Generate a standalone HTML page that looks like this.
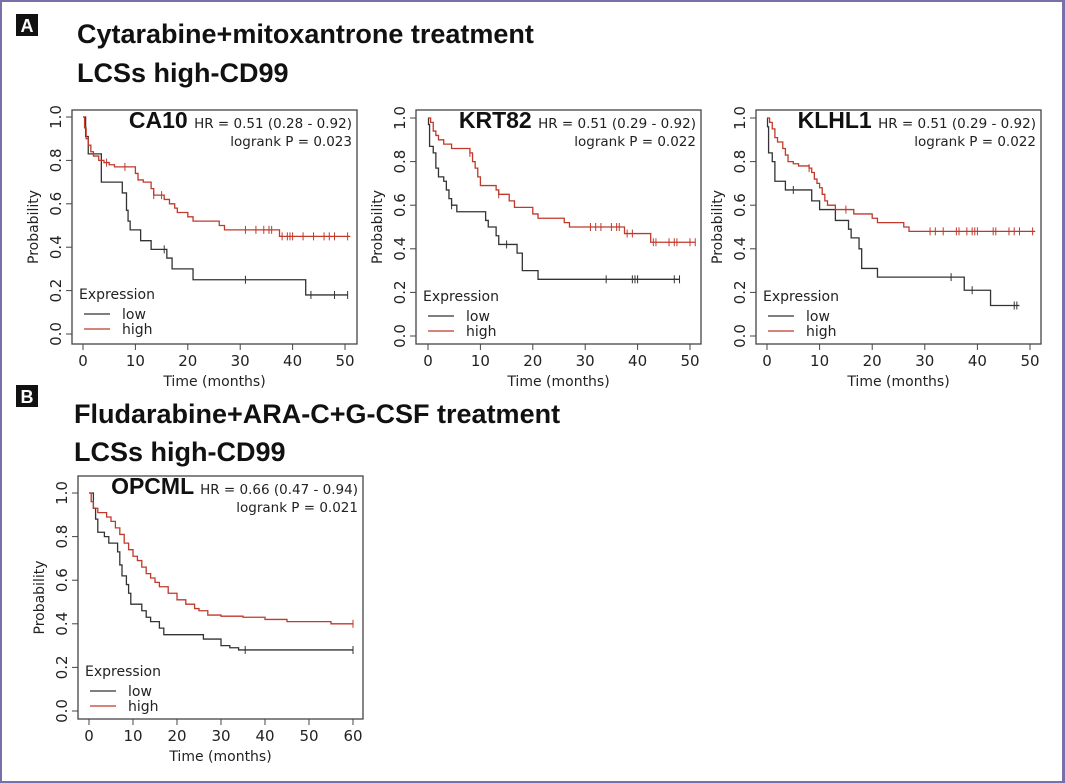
<!DOCTYPE html>
<html><head><meta charset="utf-8">
<style>
html,body{margin:0;padding:0;background:#fff;}
#wrap{position:relative;width:1065px;height:783px;overflow:hidden;box-sizing:border-box;border:2px solid #7a6fa8;border-right-width:3px;}
svg{position:absolute;left:0;top:0;}
.h{font-family:"Liberation Sans",sans-serif;font-weight:bold;font-size:27px;fill:#111;}
.t{font-family:"DejaVu Sans","Liberation Sans",sans-serif;fill:#222;}
</style></head>
<body>
<div id="wrap">
<svg id="fig" width="1065" height="783" viewBox="0 0 1065 783">
  <rect x="14" y="12" width="22" height="22" fill="#111"/>
  <text x="25" y="30" text-anchor="middle" font-family="Liberation Sans" font-weight="bold" font-size="18" fill="#fff">A</text>
  <text class="h" x="75" y="41">Cytarabine+mitoxantrone treatment</text>
  <text class="h" x="75" y="80">LCSs high-CD99</text>
  <rect x="14" y="383" width="22" height="22" fill="#111"/>
  <text x="25" y="401" text-anchor="middle" font-family="Liberation Sans" font-weight="bold" font-size="18" fill="#fff">B</text>
  <text class="h" x="72" y="421">Fludarabine+ARA-C+G-CSF treatment</text>
  <text class="h" x="72" y="459">LCSs high-CD99</text>
</svg>
</div>
<script>
// ---- data ----
const xTicks50 = [0,10,20,30,40,50];
const xTicks60 = [0,10,20,30,40,50,60];
const yTicks = [0,0.2,0.4,0.6,0.8,1.0];
const yTickLabels = ["0.0","0.2","0.4","0.6","0.8","1.0"];

const ca10LowT = [0,0.5,1,3.5,7.5,8.3,8.6,9,11,13,16,17,21,42.5,50.5];
const ca10LowS = [1,0.91,0.83,0.70,0.65,0.57,0.52,0.48,0.43,0.39,0.35,0.30,0.25,0.18,0.18];
const ca10LowC = [15.5,31,43.5,48,50.5];
const ca10HighT = [0,0.3,0.6,1,1.5,2,3,4,5,6,10,10.5,11.5,13,13.5,15.5,16.5,17.5,18,20,21,26,27,37.5,51];
const ca10HighS = [1,0.95,0.90,0.87,0.84,0.82,0.80,0.79,0.78,0.77,0.74,0.71,0.70,0.67,0.64,0.62,0.60,0.58,0.56,0.54,0.52,0.50,0.48,0.45,0.45];
const ca10HighC = [4.5,8,13.5,15,31,33,34.5,35.5,36,38,39,39.5,40,42,44,46,47,48,50.5];

const krtLowT = [0,0.1,0.3,1,1.5,2,3,3.5,4,4.5,5.5,11,11.5,13,13.5,17,18,21,48];
const krtLowS = [1,0.97,0.87,0.84,0.77,0.73,0.71,0.67,0.63,0.60,0.57,0.53,0.50,0.46,0.42,0.38,0.30,0.26,0.26];
const krtLowC = [4.5,15,34,39,39.5,40,47,48];
const krtHighT = [0,0.5,1,1.5,2,3,4.5,8,8.5,9,9.5,10,13,13.5,15.5,16.5,20,21,26,27,37.5,42.5,51];
const krtHighS = [1,0.98,0.94,0.92,0.90,0.88,0.86,0.84,0.80,0.77,0.73,0.69,0.67,0.65,0.62,0.59,0.56,0.54,0.52,0.50,0.47,0.43,0.43];
const krtHighC = [8,13.5,31,32,33,35,36,36.5,38,39,43,43.5,46,47,47.5,50,51];

const klhLowT = [0,0.1,0.3,1,1.5,3.5,8.5,10,13,15.5,16,17.5,18,21,37.5,42.5,48];
const klhLowS = [1,0.96,0.84,0.80,0.71,0.67,0.62,0.58,0.53,0.49,0.45,0.40,0.31,0.27,0.21,0.14,0.14];
const klhLowC = [5,35,39,47,47.5];
const klhHighT = [0,0.5,1,1.5,2,3,3.5,4,5,6,8,8.5,9,9.5,10,10.5,11,11.5,13,16.5,20,21,26,27,51];
const klhHighS = [1,0.98,0.95,0.91,0.89,0.86,0.83,0.80,0.79,0.78,0.77,0.75,0.72,0.70,0.68,0.65,0.62,0.60,0.58,0.56,0.54,0.52,0.50,0.48,0.48];
const klhHighC = [8,15,31,32,33.5,36,36.5,38,39,39.5,40,43,43.5,46,47,48,50.5];

const opcLowT = [0,1,1.5,2,3.5,4.5,6.5,7,7.5,8.5,9,9.5,12,13,14,16,17,26,30,32,34,60];
const opcLowS = [1,0.93,0.88,0.82,0.80,0.77,0.73,0.67,0.62,0.58,0.54,0.49,0.46,0.43,0.41,0.38,0.35,0.33,0.30,0.29,0.28,0.28];
const opcLowC = [35.5,60];
const opcHighT = [0,0.5,1,2,4,5,6,7,8,9,10,11,12,13,14,15,16,18,20,22,24,25,27,30,35,40,45,55,60];
const opcHighS = [1,0.96,0.93,0.91,0.89,0.87,0.84,0.81,0.77,0.74,0.71,0.69,0.66,0.63,0.61,0.59,0.57,0.54,0.51,0.49,0.47,0.46,0.44,0.435,0.43,0.42,0.41,0.40,0.40];
const opcHighC = [60];

const NS = "http://www.w3.org/2000/svg";
const svg = document.getElementById('fig');
function mk(tag, attrs, parent){ const e=document.createElementNS(NS,tag); for(const k in attrs) e.setAttribute(k,attrs[k]); (parent||svg).appendChild(e); return e; }

function drawKM(p){
  const g = mk('g',{});
  
  
  const sx = v => p.x0 + (v/p.xMax)*(p.xM - p.x0);
  const sy = v => p.y0 + v*(p.y1 - p.y0);
  const box = mk('rect',{x:p.l,y:p.t,width:p.r-p.l,height:p.b-p.t,fill:'none',stroke:'#444','stroke-width':1.3},g);
  
  
  p.xt.forEach(v=>{
    mk('line',{x1:sx(v),x2:sx(v),y1:p.b,y2:p.b+6,stroke:'#444'},g);
    const t = mk('text',{x:sx(v),y:p.b+22,'text-anchor':'middle','font-size':15,class:'t'},g);
    t.textContent = v;
    
    
  });
  yTicks.forEach((v,i)=>{
    mk('line',{x1:p.l,x2:p.l-6,y1:sy(v),y2:sy(v),stroke:'#444'},g);
    const t = mk('text',{x:0,y:0,'text-anchor':'middle','font-size':15,class:'t',transform:`translate(${p.l-11},${sy(v)}) rotate(-90)`},g);
    t.textContent = yTickLabels[i];
    
    
  });
  const yl = mk('text',{x:0,y:0,'text-anchor':'middle','font-size':14,class:'t',transform:`translate(${p.l-34},${(p.t+p.b)/2}) rotate(-90)`},g);
  yl.textContent='Probability';
  
  
  const xl = mk('text',{x:(p.l+p.r)/2,y:p.b+42,'text-anchor':'middle','font-size':14,class:'t'},g);
  xl.textContent='Time (months)';
  
  
  const h = mk('text',{x:p.r-5,y:p.t+18,'text-anchor':'end',class:'t'},g);
  
  
  const ts1 = mk('tspan',{'font-size':23,'font-weight':'bold',fill:'#111','font-family':'Liberation Sans'},h); ts1.textContent=p.gene+' ';
  const ts2 = mk('tspan',{'font-size':13.5},h); ts2.textContent=p.hr;
  const lr = mk('text',{x:p.r-5,y:p.t+36,'text-anchor':'end','font-size':13.5,class:'t'},g);
  lr.textContent = p.lr;
  
  
  function curve(T,S,C,col,nm){
    let d = `M${sx(T[0])},${sy(S[0])}`;
    for(let i=1;i<T.length;i++){ d += `H${sx(T[i])}V${sy(S[i])}`; }
    const path = mk('path',{d:d,fill:'none',stroke:col,'stroke-width':1.3},g);
    
    
    C.forEach(c=>{
      let s=S[0]; for(let i=0;i<T.length;i++){ if(T[i]<=c) s=S[i]; }
      const m = mk('line',{x1:sx(c),x2:sx(c),y1:sy(s)-4,y2:sy(s)+4,stroke:col,'stroke-width':1},g);
      
      
    });
  }
  curve(p.lowT,p.lowS,p.lowC,'#333','low');
  curve(p.highT,p.highS,p.highC,'#c0392b','high');
  const ly = p.y0;
  const e1 = mk('text',{x:p.l+7,y:ly-35,'font-size':14,class:'t'},g); e1.textContent='Expression';
  
  
  mk('line',{x1:p.l+12,x2:p.l+38,y1:ly-20,y2:ly-20,stroke:'#333','stroke-width':1.3},g);
  const e2 = mk('text',{x:p.l+50,y:ly-15,'font-size':14,class:'t'},g); e2.textContent='low';
  
  
  mk('line',{x1:p.l+12,x2:p.l+38,y1:ly-5,y2:ly-5,stroke:'#c0392b','stroke-width':1.3},g);
  const e3 = mk('text',{x:p.l+50,y:ly,'font-size':14,class:'t'},g); e3.textContent='high';
  
  
}

drawKM({name:'ca10',gene:'CA10',hr:'HR = 0.51 (0.28 - 0.92)',lr:'logrank P = 0.023',l:70,r:355,t:108,b:342,x0:81,xM:343,xMax:50,y1:115,y0:332,xt:xTicks50,
  lowT:ca10LowT,lowS:ca10LowS,lowC:ca10LowC,highT:ca10HighT,highS:ca10HighS,highC:ca10HighC});
drawKM({name:'krt82',gene:'KRT82',hr:'HR = 0.51 (0.29 - 0.92)',lr:'logrank P = 0.022',l:414,r:699,t:108,b:342,x0:426,xM:688,xMax:50,y1:116,y0:334,xt:xTicks50,
  lowT:krtLowT,lowS:krtLowS,lowC:krtLowC,highT:krtHighT,highS:krtHighS,highC:krtHighC});
drawKM({name:'klhl1',gene:'KLHL1',hr:'HR = 0.51 (0.29 - 0.92)',lr:'logrank P = 0.022',l:754,r:1039,t:108,b:342,x0:765,xM:1028,xMax:50,y1:116,y0:334,xt:xTicks50,
  lowT:klhLowT,lowS:klhLowS,lowC:klhLowC,highT:klhHighT,highS:klhHighS,highC:klhHighC});
drawKM({name:'opcml',gene:'OPCML',hr:'HR = 0.66 (0.47 - 0.94)',lr:'logrank P = 0.021',l:76,r:361,t:474,b:717,x0:87,xM:351,xMax:60,y1:491,y0:709,xt:xTicks60,
  lowT:opcLowT,lowS:opcLowS,lowC:opcLowC,highT:opcHighT,highS:opcHighS,highC:opcHighC});
</script>
</body></html>
